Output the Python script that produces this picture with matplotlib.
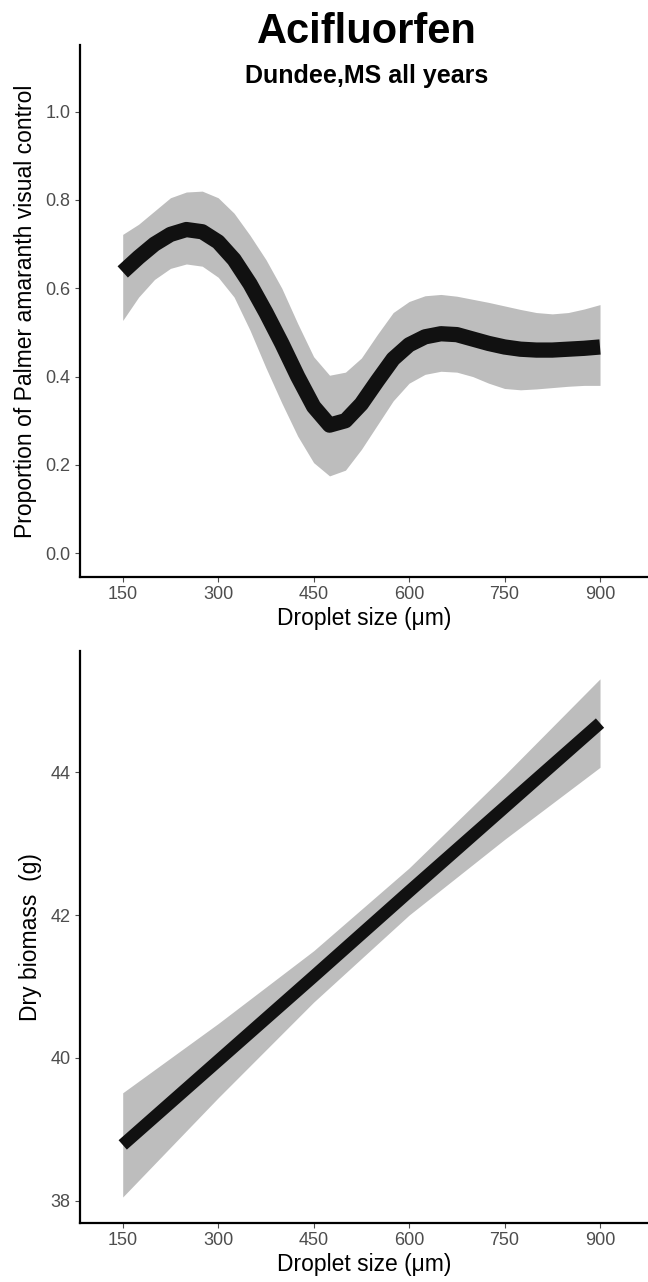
import numpy as np
import matplotlib
matplotlib.use("Agg")
from matplotlib import pyplot as plt

plt.rcParams['font.family'] = ['Liberation Sans', 'DejaVu Sans']

# top panel: visual control vs droplet size (smooth fit + ribbon)
droplet = [150, 175, 200, 225, 250, 275, 300, 325, 350, 375, 400, 425, 450, 475, 500, 525,
           550, 575, 600, 625, 650, 675, 700, 725, 750, 775, 800, 825, 850, 875, 900]
control_fit = [0.637, 0.670, 0.700, 0.722, 0.733, 0.728, 0.705, 0.665, 0.610, 0.545, 0.475,
               0.400, 0.332, 0.290, 0.300, 0.338, 0.390, 0.440, 0.472, 0.490, 0.497, 0.495,
               0.485, 0.475, 0.467, 0.462, 0.460, 0.460, 0.462, 0.464, 0.467]
control_hi = [0.722, 0.745, 0.775, 0.805, 0.818, 0.820, 0.805, 0.770, 0.720, 0.665, 0.600,
              0.520, 0.445, 0.403, 0.410, 0.442, 0.495, 0.545, 0.570, 0.583, 0.586, 0.582,
              0.575, 0.568, 0.560, 0.552, 0.545, 0.542, 0.545, 0.553, 0.563]
control_lo = [0.527, 0.580, 0.620, 0.645, 0.655, 0.650, 0.625, 0.580, 0.505, 0.420, 0.340,
              0.265, 0.205, 0.175, 0.188, 0.235, 0.290, 0.345, 0.385, 0.405, 0.412, 0.410,
              0.400, 0.385, 0.373, 0.370, 0.372, 0.375, 0.378, 0.380, 0.380]

# bottom panel: dry biomass vs droplet size (linear fit + ribbon)
droplet_lm = [150, 300, 450, 600, 750, 900]
biomass_fit = [38.78, 39.96, 41.14, 42.33, 43.51, 44.69]
biomass_hi = [39.51, 40.48, 41.50, 42.66, 43.96, 45.31]
biomass_lo = [38.05, 39.44, 40.78, 42.00, 43.06, 44.07]

xticks = [150, 300, 450, 600, 750, 900]

W, H = 648, 1282
fig = plt.figure(figsize=(W / 100, H / 100), dpi=100)

def panel(top, bottom):
    return fig.add_axes([79.5 / W, 1 - bottom / H, (W - 79.5) / W, (bottom - top) / H])

ax1 = panel(45, 577)
ax2 = panel(651, 1222.7)

band = '#bdbdbd'
for ax in (ax1, ax2):
    for s in ('top', 'right'):
        ax.spines[s].set_visible(False)
    for s in ('left', 'bottom'):
        ax.spines[s].set_linewidth(1.6)
        ax.spines[s].set_color('black')
    ax.tick_params(axis='both', colors='#4d4d4d', labelsize=13, length=3.5, width=0.8, pad=3)
    ax.set_xticks(xticks)
    ax.set_xlim(82.1, 975.4)
    ax.set_xlabel('Droplet size (μm)', fontsize=16.5, color='black', labelpad=3)

ax1.fill_between(droplet, control_lo, control_hi, color=band, lw=0)
ax1.plot(droplet, control_fit, color='#111111', lw=11, solid_capstyle='butt', solid_joinstyle='round')
ax1.set_ylim(-0.054, 1.151)
ax1.set_yticks([0.0, 0.2, 0.4, 0.6, 0.8, 1.0])
ax1.set_yticklabels(['0.0', '0.2', '0.4', '0.6', '0.8', '1.0'])
ax1.set_ylabel('Proportion of Palmer amaranth visual control', fontsize=16.5, labelpad=6)
ax1.text(0.505, 1.025, 'Acifluorfen', transform=ax1.transAxes, ha='center', va='center',
         fontsize=30, fontweight='bold')
ax1.text(0.505, 0.942, 'Dundee,MS all years', transform=ax1.transAxes, ha='center', va='center',
         fontsize=18, fontweight='bold')

ax2.fill_between(droplet_lm, biomass_lo, biomass_hi, color=band, lw=0)
ax2.plot(droplet_lm, biomass_fit, color='#111111', lw=9, solid_capstyle='butt')
ax2.set_ylim(37.69, 45.70)
ax2.set_yticks([38, 40, 42, 44])
ax2.set_ylabel('Dry biomass  (g)', fontsize=16.5, labelpad=6)

fig.savefig('out.png', dpi=100)
